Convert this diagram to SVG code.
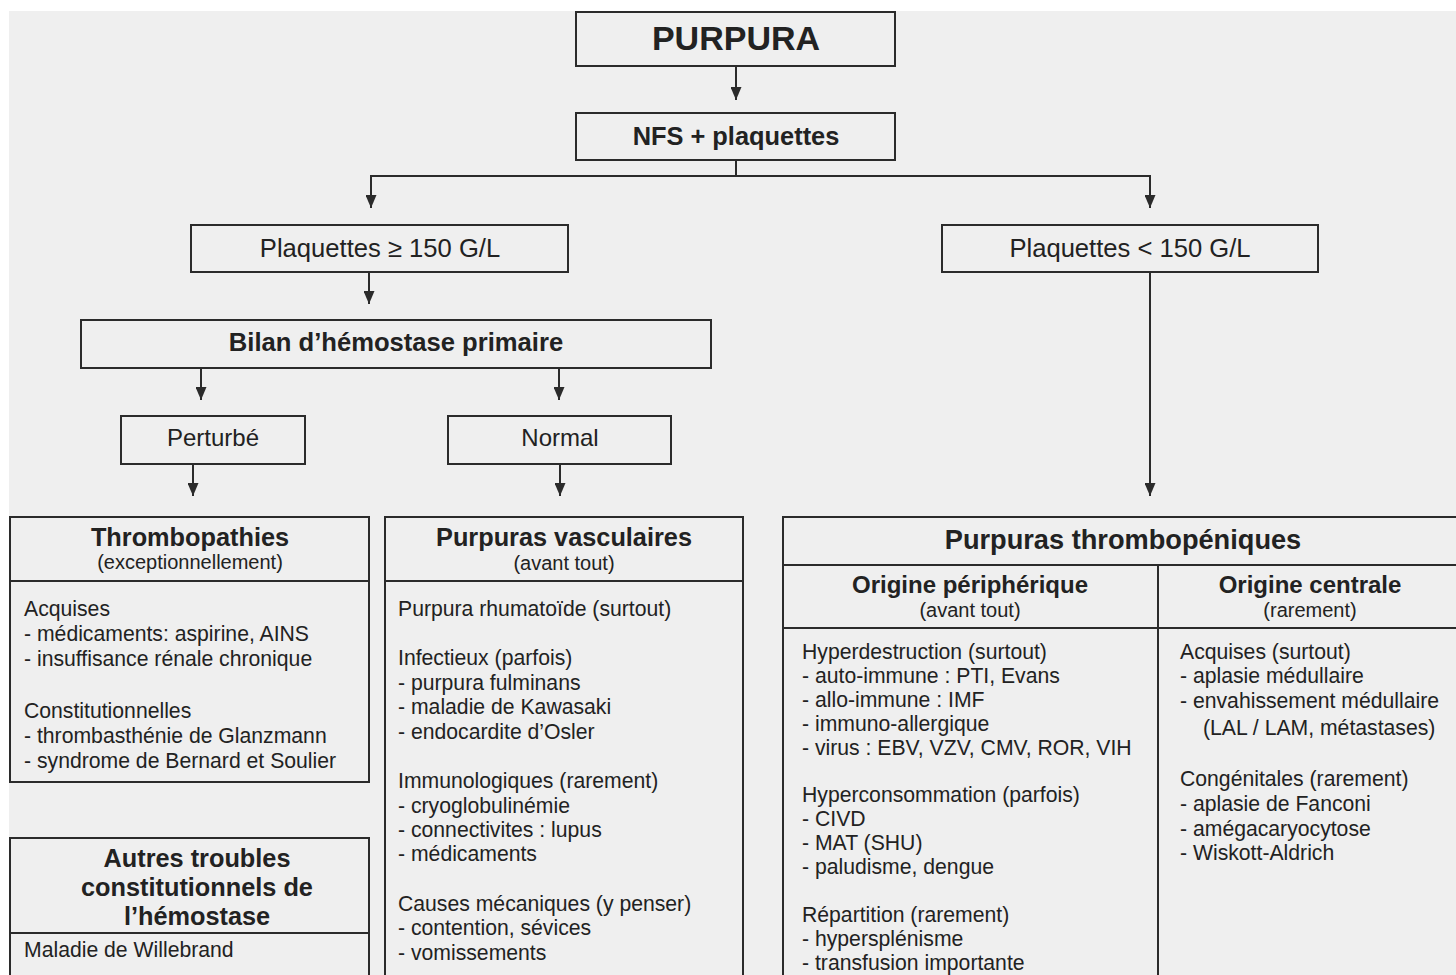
<svg xmlns="http://www.w3.org/2000/svg" width="1456" height="975" viewBox="0 0 1456 975">
  <style>
    .box { fill: none; stroke: #2b2b2b; stroke-width: 2; }
    .sep { fill: none; stroke: #2b2b2b; stroke-width: 2; }
    .edge { fill: none; stroke: #2b2b2b; stroke-width: 2; }
    text { font-family: "Liberation Sans", Arial, Helvetica, sans-serif; fill: #222; }
    .t1 { font-size: 34px; font-weight: bold; text-anchor: middle; }
    .hb { font-size: 25.4px; font-weight: bold; text-anchor: middle; }
    .hr { font-size: 24px; text-anchor: middle; }
    .tt { font-size: 25.3px; font-weight: bold; text-anchor: middle; }
    .sub { font-size: 20px; text-anchor: middle; }
    .body { font-size: 21.2px; }
  </style>
  <defs>
    <marker id="arrow" viewBox="0 0 13 11" refX="13" refY="5.5" markerWidth="13" markerHeight="11" markerUnits="userSpaceOnUse" orient="auto">
      <path d="M0,0 L13,5.5 L0,11 z" fill="#2b2b2b"/>
    </marker>
  </defs>

  <!-- page -->
  <rect x="0" y="0" width="1456" height="975" fill="#ffffff"/>
  <rect x="9" y="11" width="1447" height="964" fill="#efefef"/>

  <!-- connectors -->
  <g id="connectors">
    <path class="edge" d="M736,66 V100" marker-end="url(#arrow)"/>
    <path class="edge" d="M736,160 V176"/>
    <path class="edge" d="M371,176 H1150"/>
    <path class="edge" d="M371,175 V208" marker-end="url(#arrow)"/>
    <path class="edge" d="M1150,175 V208" marker-end="url(#arrow)"/>
    <path class="edge" d="M369,272 V304" marker-end="url(#arrow)"/>
    <path class="edge" d="M201,368 V400" marker-end="url(#arrow)"/>
    <path class="edge" d="M559,368 V400" marker-end="url(#arrow)"/>
    <path class="edge" d="M193,464 V496" marker-end="url(#arrow)"/>
    <path class="edge" d="M560,464 V496" marker-end="url(#arrow)"/>
    <path class="edge" d="M1150,272 V496" marker-end="url(#arrow)"/>
  </g>

  <g id="purpura">
    <rect class="box" x="576" y="12" width="319" height="54"/>
    <text class="t1" x="736" y="50">PURPURA</text>
  </g>

  <g id="nfs">
    <rect class="box" x="576" y="113" width="319" height="47"/>
    <text class="hb" x="736" y="145">NFS + plaquettes</text>
  </g>

  <g id="plaq-high">
    <rect class="box" x="191" y="225" width="377" height="47"/>
    <text class="hr" x="380" y="257" style="font-size:25.6px">Plaquettes ≥ 150 G/L</text>
  </g>

  <g id="plaq-low">
    <rect class="box" x="942" y="225" width="376" height="47"/>
    <text class="hr" x="1130" y="257" style="font-size:25.6px">Plaquettes &lt; 150 G/L</text>
  </g>

  <g id="bilan">
    <rect class="box" x="81" y="320" width="630" height="48"/>
    <text class="hb" x="396" y="351" style="font-size:25.6px">Bilan d’hémostase primaire</text>
  </g>

  <g id="perturbe">
    <rect class="box" x="121" y="416" width="184" height="48"/>
    <text class="hr" x="213" y="446">Perturbé</text>
  </g>

  <g id="normal">
    <rect class="box" x="448" y="416" width="223" height="48"/>
    <text class="hr" x="560" y="446">Normal</text>
  </g>

  <g id="thrombopathies">
    <rect class="box" x="10" y="517" width="359" height="265"/>
    <line class="sep" x1="10" y1="581" x2="369" y2="581"/>
    <text class="tt" x="190" y="546">Thrombopathies</text>
    <text class="sub" x="190" y="569">(exceptionnellement)</text>
    <text class="body" x="24" y="616">Acquises</text>
    <text class="body" x="24" y="641">- médicaments: aspirine, AINS</text>
    <text class="body" x="24" y="666">- insuffisance rénale chronique</text>
    <text class="body" x="24" y="718">Constitutionnelles</text>
    <text class="body" x="24" y="743">- thrombasthénie de Glanzmann</text>
    <text class="body" x="24" y="768">- syndrome de Bernard et Soulier</text>
  </g>

  <g id="autres">
    <rect class="box" x="10" y="838" width="359" height="150"/>
    <line class="sep" x1="10" y1="933" x2="369" y2="933"/>
    <text class="tt" x="197" y="867">Autres troubles</text>
    <text class="tt" x="197" y="896">constitutionnels de</text>
    <text class="tt" x="197" y="925">l’hémostase</text>
    <text class="body" x="24" y="957">Maladie de Willebrand</text>
  </g>

  <g id="vasculaires">
    <rect class="box" x="385" y="517" width="358" height="470"/>
    <line class="sep" x1="385" y1="581" x2="743" y2="581"/>
    <text class="tt" x="564" y="546">Purpuras vasculaires</text>
    <text class="sub" x="564" y="570">(avant tout)</text>
    <text class="body" x="398" y="616">Purpura rhumatoïde (surtout)</text>
    <text class="body" x="398" y="665">Infectieux (parfois)</text>
    <text class="body" x="398" y="690">- purpura fulminans</text>
    <text class="body" x="398" y="714">- maladie de Kawasaki</text>
    <text class="body" x="398" y="739">- endocardite d’Osler</text>
    <text class="body" x="398" y="788">Immunologiques (rarement)</text>
    <text class="body" x="398" y="813">- cryoglobulinémie</text>
    <text class="body" x="398" y="837">- connectivites : lupus</text>
    <text class="body" x="398" y="861">- médicaments</text>
    <text class="body" x="398" y="911">Causes mécaniques (y penser)</text>
    <text class="body" x="398" y="935">- contention, sévices</text>
    <text class="body" x="398" y="960">- vomissements</text>
  </g>

  <g id="thrombopeniques">
    <rect class="box" x="783" y="517" width="690" height="470"/>
    <line class="sep" x1="783" y1="565" x2="1456" y2="565"/>
    <line class="sep" x1="783" y1="628" x2="1456" y2="628"/>
    <line class="sep" x1="1158" y1="565" x2="1158" y2="975"/>
    <text class="tt" x="1123" y="549" style="font-size:27.2px">Purpuras thrombopéniques</text>
    <text class="hb" x="970" y="593" style="font-size:24px">Origine périphérique</text>
    <text class="sub" x="970" y="617">(avant tout)</text>
    <text class="hb" x="1310" y="593" style="font-size:24px">Origine centrale</text>
    <text class="sub" x="1310" y="617">(rarement)</text>

    <text class="body" x="802" y="659">Hyperdestruction (surtout)</text>
    <text class="body" x="802" y="683">- auto-immune : PTI, Evans</text>
    <text class="body" x="802" y="707">- allo-immune : IMF</text>
    <text class="body" x="802" y="731">- immuno-allergique</text>
    <text class="body" x="802" y="755">- virus : EBV, VZV, CMV, ROR, VIH</text>
    <text class="body" x="802" y="802">Hyperconsommation (parfois)</text>
    <text class="body" x="802" y="826">- CIVD</text>
    <text class="body" x="802" y="850">- MAT (SHU)</text>
    <text class="body" x="802" y="874">- paludisme, dengue</text>
    <text class="body" x="802" y="922">Répartition (rarement)</text>
    <text class="body" x="802" y="946">- hypersplénisme</text>
    <text class="body" x="802" y="970">- transfusion importante</text>

    <text class="body" x="1180" y="659">Acquises (surtout)</text>
    <text class="body" x="1180" y="683">- aplasie médullaire</text>
    <text class="body" x="1180" y="708">- envahissement médullaire</text>
    <text class="body" x="1203" y="735">(LAL / LAM, métastases)</text>
    <text class="body" x="1180" y="786">Congénitales (rarement)</text>
    <text class="body" x="1180" y="811">- aplasie de Fanconi</text>
    <text class="body" x="1180" y="836">- amégacaryocytose</text>
    <text class="body" x="1180" y="860">- Wiskott-Aldrich</text>
  </g>
</svg>
